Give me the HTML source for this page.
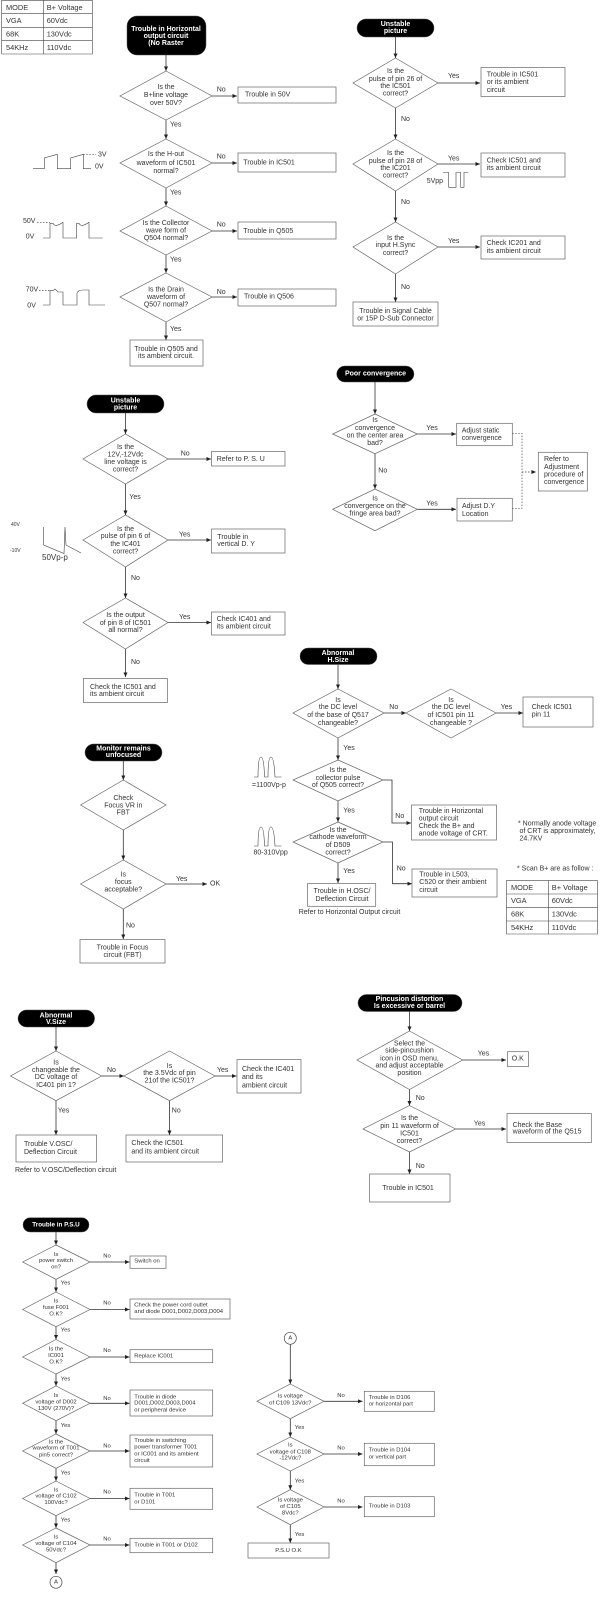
<!DOCTYPE html>
<html><head><meta charset="utf-8"><style>
html,body{margin:0;padding:0;background:#fff}
svg{display:block;filter:blur(.3px)}
text{font-family:"Liberation Sans",sans-serif;font-size:7px;fill:#333;dominant-baseline:central}
.m{text-anchor:middle}
.t{font-weight:bold;fill:#fff;font-size:7px;text-anchor:middle}
.s text,text.s{font-size:5.9px}
.b{font-size:7.4px}
polygon,rect.n{fill:#fff;stroke:#666;stroke-width:.7}
rect.p{fill:#000;stroke:#555;stroke-width:.5}
path.a{fill:none;stroke:#333;stroke-width:.8;marker-end:url(#ar)}
path.w{fill:none;stroke:#444;stroke-width:.6}
path.d{fill:none;stroke:#444;stroke-width:.7;stroke-dasharray:1.5 1.5}
</style></head><body>
<svg width="608" height="1600" viewBox="0 0 608 1600" xmlns="http://www.w3.org/2000/svg">
<defs><marker id="ar" markerUnits="userSpaceOnUse" markerWidth="5" markerHeight="4" refX="4.5" refY="2" orient="auto"><path d="M0,0L4.5,2L0,4Z" fill="#222"/></marker></defs>

<!-- table 1 -->
<path class="w" d="M1.7,0V54H92.3V0M1.7,13.3H92.3M1.7,27.3H92.3M1.7,40.7H92.3M43.3,0V54M1.7,.3H92.3"/>
<text class="b" x="6" y="7.3">MODE</text><text class="b" x="46.7" y="7.3">B+ Voltage</text>
<text class="b" x="6" y="20.3">VGA</text><text class="b" x="46.7" y="20.3">60Vdc</text>
<text class="b" x="6" y="34">68K</text><text class="b" x="46.7" y="34">130Vdc</text>
<text class="b" x="6" y="47.3">54KHz</text><text class="b" x="46.7" y="47.3">110Vdc</text>

<!-- section 1 -->
<path class="a" d="M166,55V71"/><path class="a" d="M166,120V139"/><path class="a" d="M166,188V206"/><path class="a" d="M166,255V273"/><path class="a" d="M166,322V340"/>
<path class="a" d="M212,96H237"/><path class="a" d="M212,163H237"/><path class="a" d="M212,231H237"/><path class="a" d="M212,297H237"/>
<rect class="p" x="127" y="16" width="79" height="39" rx="10"/>
<text class="t" x="166" y="29.3">Trouble in Horizontal</text><text class="t" x="166" y="36.7">output circuit</text><text class="t" x="166" y="43.7">(No Raster</text>
<polygon points="166,71 212,96 166,120 120,96"/>
<text class="m" x="166" y="87.3">Is the</text><text class="m" x="166" y="95.3">B+line voltage</text><text class="m" x="166" y="103.3">over 50V?</text>
<polygon points="166,139 212,163 166,188 120,163"/>
<text class="m" x="166" y="154.3">Is the H-out</text><text class="m" x="166" y="163.3">waveform of IC501</text><text class="m" x="166" y="171.7">normal?</text>
<polygon points="166,206 212,231 166,255 120,231"/>
<text class="m" x="166" y="223.3">Is the Collector</text><text class="m" x="166" y="231">wave form of</text><text class="m" x="166" y="238.3">Q504 normal?</text>
<polygon points="166,273 212,297 166,322 120,297"/>
<text class="m" x="166" y="290">Is the Drain</text><text class="m" x="166" y="297.7">waveform of</text><text class="m" x="166" y="305">Q507 normal?</text>
<rect class="n" x="238" y="87" width="98" height="16"/><text x="245" y="95">Trouble in 50V</text>
<rect class="n" x="238" y="153" width="98" height="19"/><text x="243.3" y="163">Trouble in IC501</text>
<rect class="n" x="238" y="222" width="98" height="17"/><text x="243.3" y="231.7">Trouble in Q505</text>
<rect class="n" x="238" y="289" width="98" height="17"/><text x="244" y="297">Trouble in Q506</text>
<rect class="n" x="130" y="340" width="73" height="26"/><text class="m" x="166" y="349.3">Trouble in Q505 and</text><text class="m" x="166" y="356.7">its ambient circuit.</text>
<text x="216.7" y="90">No</text><text x="216.7" y="157">No</text><text x="216.7" y="225">No</text><text x="216.7" y="292.7">No</text>
<text x="170" y="125">Yes</text><text x="170" y="193">Yes</text><text x="170" y="260">Yes</text><text x="170" y="329.3">Yes</text>
<path class="w" d="M33,168.7H44.3V158L57.3,154.3V168.7H70.7V158L83.3,154.3V168.7H91"/><path class="d" d="M83.3,154.3H96"/>
<text x="98" y="155">3V</text><text x="95" y="167">0V</text>
<path class="w" d="M43,238H50V223.3H53Q55,228 63,222.3V238H76.7V223.3H79Q81,228 89,222.3V238H102.7"/><path class="d" d="M37,222.3H50"/>
<text x="23" y="221.7">50V</text><text x="25.7" y="237">0V</text>
<path class="w" d="M43,305H50V290.7H53L55,289L58,292H63V305H77V293Q78,290 83,290H89V305H105"/><path class="d" d="M39,290.5H50"/>
<text x="25.7" y="290">70V</text><text x="27.3" y="306">0V</text>

<!-- section 2 -->
<path class="a" d="M395.5,37V58"/><path class="a" d="M395.5,108V139"/><path class="a" d="M395.5,191V222"/><path class="a" d="M395.5,274V302"/>
<path class="a" d="M438,83H480"/><path class="a" d="M438,164H480"/><path class="a" d="M438,247H480"/>
<rect class="p" x="357" y="19" width="77" height="18" rx="9"/>
<text class="t" x="395.5" y="24.3">Unstable</text><text class="t" x="395.5" y="31.7">picture</text>
<polygon points="395.5,58 438,83 395.5,108 353,83"/>
<text class="m" x="395.5" y="71.7">Is the</text><text class="m" x="395.5" y="79.3">pulse of pin 26 of</text><text class="m" x="395.5" y="86.7">the IC501</text><text class="m" x="395.5" y="94">correct?</text>
<polygon points="395.5,139 438,164 395.5,191 353,164"/>
<text class="m" x="395.5" y="153.3">Is the</text><text class="m" x="395.5" y="161.3">pulse of pin 28 of</text><text class="m" x="395.5" y="168.7">the IC201</text><text class="m" x="395.5" y="176">correct?</text>
<polygon points="395.5,222 438,247 395.5,274 353,247"/>
<text class="m" x="395.5" y="238.3">Is the</text><text class="m" x="395.5" y="245.7">input H.Sync</text><text class="m" x="395.5" y="253.3">correct?</text>
<rect class="n" x="481" y="67.5" width="84" height="29"/><text x="486.7" y="75">Trouble in IC501</text><text x="486.7" y="82.7">or its ambient</text><text x="486.7" y="90.3">circuit</text>
<rect class="n" x="481" y="153" width="84" height="24"/><text x="486.7" y="161">Check IC501 and</text><text x="486.7" y="168.7">its ambient circuit</text>
<rect class="n" x="481" y="236" width="84" height="23"/><text x="486.7" y="243.3">Check IC201 and</text><text x="486.7" y="251.7">its ambient circuit</text>
<rect class="n" x="353" y="302" width="85" height="24"/><text class="m" x="395.5" y="311.7">Trouble in Signal Cable</text><text class="m" x="395.5" y="319">or 15P D-Sub Connector</text>
<text x="448" y="76.7">Yes</text><text x="448" y="159">Yes</text><text x="448" y="241.7">Yes</text>
<text x="401" y="119.3">No</text><text x="401" y="202.3">No</text><text x="401" y="287.3">No</text>
<text x="426.7" y="181.7">5Vpp</text>
<path class="w" d="M443,172.5H448.7V187.3H456V172.5H460.7V187.3H464V172.5H468.3"/>

<!-- section 3 -->
<path class="a" d="M125.5,413V434"/><path class="a" d="M125.5,484V515"/><path class="a" d="M125.5,567V598"/><path class="a" d="M125.5,649V677"/>
<path class="a" d="M168,459H211"/><path class="a" d="M168,540H211"/><path class="a" d="M168,622.5H211"/>
<rect class="p" x="87" y="395" width="77" height="18" rx="9"/>
<text class="t" x="125.5" y="401">Unstable</text><text class="t" x="125.5" y="408">picture</text>
<polygon points="125.5,434 168,459 125.5,484 83,459"/>
<text class="m" x="125.5" y="447.7">Is the</text><text class="m" x="125.5" y="455">12V,-12Vdc</text><text class="m" x="125.5" y="462.7">line voltage is</text><text class="m" x="125.5" y="470">correct?</text>
<polygon points="125.5,515 168,540 125.5,567 83,540"/>
<text class="m" x="125.5" y="529.3">Is the</text><text class="m" x="125.5" y="536.7">pulse of pin 6 of</text><text class="m" x="125.5" y="544.3">the IC401</text><text class="m" x="125.5" y="552">correct?</text>
<polygon points="125.5,598 168,622.5 125.5,649 83,622.5"/>
<text class="m" x="125.5" y="615.7">Is the output</text><text class="m" x="125.5" y="623.3">of pin 8 of IC501</text><text class="m" x="125.5" y="630.7">all normal?</text>
<rect class="n" x="211.5" y="451.5" width="73.5" height="14.5"/><text x="216.7" y="459.3">Refer to P. S. U</text>
<rect class="n" x="211.5" y="529" width="73.5" height="24"/><text x="217.3" y="537.3">Trouble in</text><text x="217.3" y="544.3">vertical D. Y</text>
<rect class="n" x="211.5" y="612" width="73.5" height="23"/><text x="216.7" y="619.3">Check IC401 and</text><text x="216.7" y="627">its ambient circuit</text>
<rect class="n" x="83.4" y="678.5" width="84" height="24"/><text x="90" y="687.3">Check the IC501 and</text><text x="90" y="694.7">its ambient circuit</text>
<text x="180.7" y="454">No</text><text x="179" y="535">Yes</text><text x="179" y="617.3">Yes</text>
<text x="129.3" y="497.3">Yes</text><text x="131" y="578.7">No</text><text x="131" y="662.7">No</text>
<text style="font-size:5px" x="11" y="525">40V</text><text style="font-size:5px" x="10" y="551">-10V</text>
<text style="font-size:8px" x="42" y="557.7">50Vp-p</text>
<path class="w" d="M43.7,527V545L64,553.5L65,527L66,545L81,553"/>

<!-- section 4 -->
<path class="a" d="M375,382V414"/><path class="a" d="M375,453.7V489"/><path class="a" d="M417.3,434H456"/><path class="a" d="M417.3,509.3H456"/>
<path class="d" d="M512.3,433.3H522V508.3H512.3"/><path class="d" d="M522,472H536" style="marker-end:url(#ar)"/>
<rect class="p" x="336.7" y="366" width="77.3" height="16" rx="8"/><text class="t" x="375.5" y="374">Poor convergence</text>
<polygon points="375,414 417.3,434 375,453.7 332.7,434"/>
<text class="m" x="375" y="420.7">Is</text><text class="m" x="375" y="428.7">convergence</text><text class="m" x="375" y="436">on the center area</text><text class="m" x="375" y="443.7">bad?</text>
<polygon points="375,489 417.3,509.3 375,530.7 332.7,509.3"/>
<text class="m" x="375" y="499">Is</text><text class="m" x="375" y="506.7">convergence on the</text><text class="m" x="375" y="514">fringe area bad?</text>
<rect class="n" x="456.7" y="423.3" width="55.6" height="22.4"/><text x="461.7" y="431">Adjust static</text><text x="461.7" y="438.7">convergence</text>
<rect class="n" x="457" y="498.3" width="55.3" height="22.7"/><text x="462" y="506.7">Adjust D.Y</text><text x="462" y="514.3">Location</text>
<rect class="n" x="538.3" y="452.3" width="49" height="38.7"/><text x="544" y="459.7">Refer to</text><text x="544" y="467.3">Adjustment</text><text x="544" y="475">procedure of</text><text x="544" y="482.3">convergence</text>
<text x="426.3" y="428.3">Yes</text><text x="426.3" y="504">Yes</text><text x="378.3" y="471">No</text>

<!-- H.Size -->
<path class="a" d="M338,664.5V689"/><path class="a" d="M338,738V760"/><path class="a" d="M338,801V822"/><path class="a" d="M338,863V883"/>
<path class="a" d="M384,713H406"/><path class="a" d="M496,713H523"/><path class="a" d="M383,780H392V823H411"/><path class="a" d="M383,842H392.5V883.7H412"/>
<rect class="p" x="300" y="648" width="77" height="16.5" rx="8"/><text class="t" x="338" y="653.3">Abnormal</text><text class="t" x="338" y="660.3">H.Size</text>
<polygon points="338,689 384,713 338,738 293,713"/>
<text class="m" x="338" y="700.3">Is</text><text class="m" x="338" y="707.7">the DC level</text><text class="m" x="338" y="715.3">of the base of Q517</text><text class="m" x="338" y="723.3">changeable?</text>
<polygon points="451,689 496,713 451,738 406,713"/>
<text class="m" x="451" y="700.3">Is</text><text class="m" x="451" y="707.7">the DC level</text><text class="m" x="451" y="715.3">of IC501 pin 11</text><text class="m" x="451" y="723.3">changeable ?</text>
<polygon points="338,760 383,780 338,801 293,780"/>
<text class="m" x="338" y="770.7">Is the</text><text class="m" x="338" y="778.3">collector pulse</text><text class="m" x="338" y="785.7">of Q505 correct?</text>
<polygon points="338,822 383,842 338,863 293,842"/>
<text class="m" x="338" y="830.3">Is the</text><text class="m" x="338" y="837.7">cathode waveform</text><text class="m" x="338" y="845.3">of D509</text><text class="m" x="338" y="853">correct?</text>
<rect class="n" x="523" y="697" width="70" height="30"/><text x="531.7" y="707.3">Check IC501</text><text x="531.7" y="715">pin 11</text>
<rect class="n" x="411.5" y="805" width="85" height="35"/><text x="418.7" y="811.7">Trouble in Horizontal</text><text x="418.7" y="819">output circuit</text><text x="418.7" y="826.7">Check the B+ and</text><text x="418.7" y="834">anode voltage of CRT.</text>
<rect class="n" x="412" y="869" width="85" height="28"/><text x="419.3" y="875">Trouble in L503,</text><text x="419.3" y="882.7">C520 or their ambient</text><text x="419.3" y="890.7">circuit</text>
<rect class="n" x="307.5" y="883.6" width="68.2" height="22.7"/><text class="m" x="342" y="891.7">Trouble in H.OSC/</text><text class="m" x="342" y="899.3">Deflection Circuit</text>
<text class="m" x="349.5" y="912.5">Refer to Horizontal Output circuit</text>
<text x="389.3" y="707.7">No</text><text x="500.7" y="707.7">Yes</text><text x="343.3" y="748.3">Yes</text><text x="343.3" y="811">Yes</text><text x="343.3" y="871.3">Yes</text><text x="395.3" y="816.7">No</text><text x="396.7" y="869">No</text>
<path class="w" d="M254,777H258Q258,757 261,757Q264,757 264.5,777H268Q268,757 271,757Q274,757 275,777H281.5"/>
<path class="w" d="M254,846H258Q258,827 261,827Q264,827 264.5,846H268Q268,827 271,827Q274,827 275,846H281.5"/>
<text x="252" y="785.3">=1100Vp-p</text><text x="253.5" y="853">80-310Vpp</text>
<text x="518" y="824">* Normally anode voltage</text><text x="519.5" y="831.6">of CRT is approximately,</text><text x="519.5" y="839">24.7KV</text>
<text x="517" y="869">* Scan B+ are as follow :</text>
<path class="w" d="M506.4,880.6H597.5V934H506.4ZM506.4,894H597.5M506.4,907.7H597.5M506.4,921H597.5M548.7,880.6V934"/>
<text class="b" x="511" y="887.4">MODE</text><text class="b" x="551.8" y="887.4">B+ Voltage</text>
<text class="b" x="511" y="900.6">VGA</text><text class="b" x="551.8" y="900.6">60Vdc</text>
<text class="b" x="511" y="914">68K</text><text class="b" x="551.8" y="914">130Vdc</text>
<text class="b" x="511" y="927.6">54KHz</text><text class="b" x="551.8" y="927.6">110Vdc</text>

<!-- Focus -->
<path class="a" d="M123.3,761V780"/><path class="a" d="M123.3,830V860"/><path class="a" d="M123.3,909V939"/><path class="a" d="M166,884H207"/>
<rect class="p" x="85" y="744" width="77" height="17" rx="8.5"/><text class="t" x="123.5" y="748.8">Monitor remains</text><text class="t" x="123.5" y="755.5">unfocused</text>
<polygon points="123.3,780 166,805 123.3,830 80.6,805"/>
<text class="m" x="123.3" y="798.5">Check</text><text class="m" x="123.3" y="806">Focus VR in</text><text class="m" x="123.3" y="813">FBT</text>
<polygon points="123.3,860 166,884 123.3,909 80.6,884"/>
<text class="m" x="123.3" y="875">Is</text><text class="m" x="123.3" y="882.6">focus</text><text class="m" x="123.3" y="890">acceptable?</text>
<rect class="n" x="80" y="939.5" width="85" height="23.5"/><text class="m" x="122.5" y="948">Trouble in Focus</text><text class="m" x="122.5" y="955.3">circuit (FBT)</text>
<text x="176" y="879.6">Yes</text><text x="210" y="884">OK</text><text x="126" y="926">No</text>

<!-- V.Size -->
<path class="a" d="M56,1027V1051"/><path class="a" d="M56,1100.7V1135"/><path class="a" d="M169.5,1100.7V1135"/><path class="a" d="M101.6,1076H124"/><path class="a" d="M215,1076H236.5"/>
<rect class="p" x="18" y="1010" width="76.6" height="17" rx="8.5"/><text class="t" x="56" y="1015.8">Abnormal</text><text class="t" x="56" y="1022.3">V.Size</text>
<polygon points="56,1051 101.6,1076 56,1100.7 10.5,1076"/>
<text class="m" x="56" y="1062.8">Is</text><text class="m" x="56" y="1070.3">changeable the</text><text class="m" x="56" y="1077.7">DC voltage of</text><text class="m" x="56" y="1085.5">IC401 pin 1?</text>
<polygon points="169.5,1051 215,1076 169.5,1100.7 124,1076"/>
<text class="m" x="169.5" y="1066.5">Is</text><text class="m" x="169.5" y="1073.6">the 3.5Vdc of pin</text><text class="m" x="169.5" y="1081">21of the IC501?</text>
<rect class="n" x="237" y="1059.5" width="64" height="33.5"/><text x="242" y="1069.3">Check the IC401</text><text x="242" y="1077.7">and its</text><text x="242" y="1086">ambient circuit</text>
<rect class="n" x="16" y="1135" width="80.5" height="27"/><text x="24" y="1144.3">Trouble V.OSC/</text><text x="24" y="1152.7">Deflection Circuit</text>
<rect class="n" x="126" y="1135" width="96.6" height="27"/><text x="131.4" y="1143.6">Check the IC501</text><text x="131.4" y="1152">and its ambient circuit</text>
<text x="15" y="1170.7">Refer to V.OSC/Deflection circuit</text>
<text x="107" y="1070.3">No</text><text x="217" y="1070.3">Yes</text><text x="57.8" y="1111">Yes</text><text x="171.8" y="1111">No</text>

<!-- Pincushion -->
<path class="a" d="M409.5,1011.5V1031"/><path class="a" d="M409.5,1089.5V1105.5"/><path class="a" d="M409.5,1152V1174"/><path class="a" d="M462.6,1060H506"/><path class="a" d="M455.6,1129H506"/>
<rect class="p" x="358" y="994.5" width="104" height="17" rx="8.5"/><text class="t" x="409.5" y="999.6">Pincusion distortion</text><text class="t" x="409.5" y="1006.7">Is excessive or barrel</text>
<polygon points="409.5,1031 462.6,1060 409.5,1089.5 357,1060"/>
<text class="m" x="409.5" y="1044">Select the</text><text class="m" x="409.5" y="1051">side-pincushion</text><text class="m" x="409.5" y="1058.8">icon in OSD menu,</text><text class="m" x="409.5" y="1066">and adjust acceptable</text><text class="m" x="409.5" y="1073.6">position</text>
<polygon points="409.5,1105.5 455.6,1129 409.5,1152 363,1129"/>
<text class="m" x="409.5" y="1118.6">Is the</text><text class="m" x="409.5" y="1126.4">pin 11 waveform of</text><text class="m" x="409.5" y="1133.8">IC501</text><text class="m" x="409.5" y="1141.6">correct?</text>
<rect class="n" x="507.5" y="1051.7" width="21" height="14.8"/><text x="511.8" y="1059">O.K</text>
<rect class="n" x="507" y="1113.5" width="84.3" height="29.1"/><text x="512.6" y="1125.4">Check the Base</text><text x="512.6" y="1131.8">waveform of the Q515</text>
<rect class="n" x="369.5" y="1174" width="80.5" height="28"/><text class="m" x="408" y="1188.6">Trouble in IC501</text>
<text x="477.7" y="1054">Yes</text><text x="473.8" y="1124">Yes</text><text x="415.7" y="1098.7">No</text><text x="415.7" y="1166.3">No</text>

<!-- PSU left -->
<path class="a" d="M56,1232V1245"/><path class="a" d="M56,1279.3V1292"/><path class="a" d="M56,1326.7V1339.5"/><path class="a" d="M56,1374V1386"/><path class="a" d="M56,1420.7V1434"/><path class="a" d="M56,1468.3V1481"/><path class="a" d="M56,1515.7V1528"/><path class="a" d="M56,1562.7V1574"/>
<path class="a" d="M90,1262H129.5"/><path class="a" d="M90,1309.5H129.5"/><path class="a" d="M90,1357H129.5"/><path class="a" d="M90,1403.3H129.5"/><path class="a" d="M90,1451H129.5"/><path class="a" d="M90,1498.5H129.5"/><path class="a" d="M90,1545H129.5"/>
<rect class="p" x="23" y="1217.7" width="66" height="14.3" rx="7"/><text class="t" style="font-size:6.3px" x="56" y="1225">Trouble in P.S.U</text>
<g class="s">
<polygon points="56,1245 90,1262 56,1279.3 22.7,1262"/>
<text class="m" x="56" y="1255">Is</text><text class="m" x="56" y="1261">power switch</text><text class="m" x="56" y="1267.7">on?</text>
<polygon points="56,1292 90,1309.5 56,1326.7 22.7,1309.5"/>
<text class="m" x="56" y="1301.7">Is</text><text class="m" x="56" y="1308">fuse F001</text><text class="m" x="56" y="1314.3">O.K?</text>
<polygon points="56,1339.5 90,1357 56,1374 22.7,1357"/>
<text class="m" x="56" y="1349.7">Is the</text><text class="m" x="56" y="1356">IC001</text><text class="m" x="56" y="1362.3">O.K?</text>
<polygon points="56,1386 90,1403.3 56,1420.7 22.7,1403.3"/>
<text class="m" x="56" y="1396">Is</text><text class="m" x="56" y="1402.3">voltage of D002</text><text class="m" x="56" y="1409">130V (270V)?</text>
<polygon points="56,1434 90,1451 56,1468.3 22.7,1451"/>
<text class="m" x="56" y="1442.3">Is the</text><text class="m" x="56" y="1448.7">waveform of T001</text><text class="m" x="56" y="1455.3">pin5 correct?</text>
<polygon points="56,1481 90,1498.5 56,1515.7 22.7,1498.5"/>
<text class="m" x="56" y="1490.3">Is</text><text class="m" x="56" y="1496.7">voltage of C102</text><text class="m" x="56" y="1503">100Vdc?</text>
<polygon points="56,1528 90,1545 56,1562.7 22.7,1545"/>
<text class="m" x="56" y="1537.7">Is</text><text class="m" x="56" y="1544">voltage of C104</text><text class="m" x="56" y="1550.3">50Vdc?</text>
<rect class="n" x="130" y="1256" width="36" height="12.3"/><text x="134.3" y="1261.3">Switch on</text>
<rect class="n" x="130" y="1299" width="100" height="20"/><text x="134.3" y="1305.7">Check the power cord outlet</text><text x="134.3" y="1312">and diode D001,D002,D003,D004</text>
<rect class="n" x="130" y="1349.7" width="82.7" height="13"/><text x="134.3" y="1356.3">Replace IC001</text>
<rect class="n" x="130" y="1390" width="82.7" height="26"/><text x="134.3" y="1397.3">Trouble in diode</text><text x="134.3" y="1403.7">D001,D002,D003,D004</text><text x="134.3" y="1410.3">or peripheral device</text>
<rect class="n" x="130" y="1435" width="82.7" height="32"/><text x="134.3" y="1441">Trouble in switching</text><text x="134.3" y="1447.7">power transformer T001</text><text x="134.3" y="1454.3">or IC001 and its ambient</text><text x="134.3" y="1461">circuit</text>
<rect class="n" x="130" y="1488.3" width="82.7" height="21"/><text x="134.3" y="1495.3">Trouble in T001</text><text x="134.3" y="1502.3">or D101</text>
<rect class="n" x="130" y="1538.3" width="82.7" height="14.4"/><text x="134.3" y="1545.3">Trouble in T001 or D102</text>
<text x="103.3" y="1256.7">No</text><text x="103.3" y="1303.7">No</text><text x="103.3" y="1351">No</text><text x="103.3" y="1399">No</text><text x="103.3" y="1446.3">No</text><text x="103.3" y="1492.7">No</text><text x="103.3" y="1539.7">No</text>
<text x="60.7" y="1283.3">Yes</text><text x="60.7" y="1330.7">Yes</text><text x="60.7" y="1379.3">Yes</text><text x="60.7" y="1426">Yes</text><text x="60.7" y="1473.3">Yes</text><text x="60.7" y="1520.3">Yes</text>
</g>
<circle cx="56" cy="1582.3" r="6" fill="#fff" stroke="#444" stroke-width=".7"/><text class="m s" x="56" y="1582.3">A</text>

<!-- PSU right -->
<path class="a" d="M290.3,1344.3V1384"/><path class="a" d="M290.3,1418.7V1437"/><path class="a" d="M290.3,1471V1489.7"/><path class="a" d="M290.3,1524.7V1543"/>
<path class="a" d="M324,1401.3H362.5"/><path class="a" d="M324,1454H362.5"/><path class="a" d="M324,1507H362.5"/>
<circle cx="290.3" cy="1338.3" r="6" fill="#fff" stroke="#444" stroke-width=".7"/><text class="m s" x="290.3" y="1338.3">A</text>
<g class="s">
<polygon points="290.3,1384 324,1401.3 290.3,1418.7 257,1401.3"/>
<text class="m" x="290.3" y="1396.7">Is voltage</text><text class="m" x="290.3" y="1403.7">of C109 13Vdc?</text>
<polygon points="290.3,1437 324,1454 290.3,1471 257,1454"/>
<text class="m" x="290.3" y="1445.7">Is</text><text class="m" x="290.3" y="1452.3">voltage of C108</text><text class="m" x="290.3" y="1458.7">-12Vdc?</text>
<polygon points="290.3,1489.7 324,1507 290.3,1524.7 257,1507"/>
<text class="m" x="290.3" y="1500.7">Is voltage</text><text class="m" x="290.3" y="1507">of C105</text><text class="m" x="290.3" y="1513.3">8Vdc?</text>
<rect class="n" x="364.3" y="1391.3" width="70" height="20"/><text x="368.7" y="1398">Trouble in D106</text><text x="368.7" y="1404.7">or horizontal part</text>
<rect class="n" x="364.3" y="1443.3" width="70" height="22.4"/><text x="368.7" y="1450.3">Trouble in D104</text><text x="368.7" y="1457.3">or vertical part</text>
<rect class="n" x="364.3" y="1496.7" width="70" height="20"/><text x="368.7" y="1506.7">Trouble in D103</text>
<rect class="n" x="248" y="1543" width="81" height="15"/><text class="m" x="288.5" y="1551">P.S.U O.K</text>
<text x="337.3" y="1396">No</text><text x="337.3" y="1448.7">No</text><text x="337.3" y="1501.7">No</text>
<text x="294.7" y="1428">Yes</text><text x="294.7" y="1481.3">Yes</text><text x="294.7" y="1535">Yes</text>
</g>
</svg>
</body></html>
